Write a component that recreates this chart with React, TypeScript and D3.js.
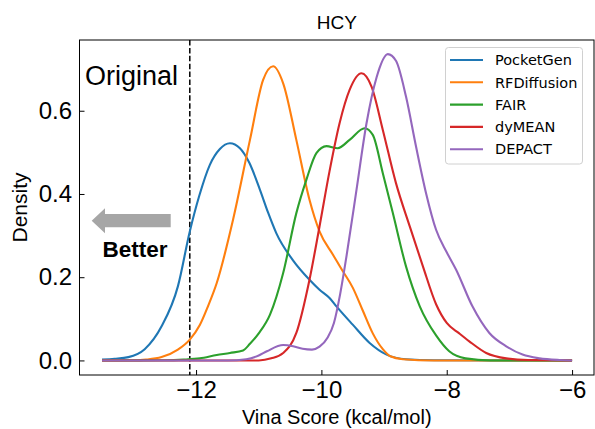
import React, { useEffect, useRef } from "react";
import * as d3 from "d3";

// KDE curves: [vina score, density]
const seriesNames = ["PocketGen", "RFDiffusion", "FAIR", "dyMEAN", "DEPACT"];
const seriesColors = ["#1f77b4", "#ff7f0e", "#2ca02c", "#d62728", "#9467bd"];

const pocketGen = [
	[-13.5, 0.002], [-13.3, 0.004], [-13.08, 0.008], [-12.82, 0.027], [-12.55, 0.082],
	[-12.29, 0.178], [-12.1, 0.31], [-11.95, 0.395], [-11.78, 0.47], [-11.62, 0.508],
	[-11.46, 0.522], [-11.3, 0.51], [-11.15, 0.475], [-10.98, 0.41], [-10.85, 0.355],
	[-10.72, 0.306], [-10.45, 0.24], [-10.19, 0.194], [-10.03, 0.17], [-9.87, 0.15],
	[-9.76, 0.13], [-9.5, 0.086], [-9.23, 0.042], [-8.96, 0.014], [-8.65, 0.003],
	[-8.2, 0.0005], [-6, 0],
];
const rfDiffusion = [
	[-13.5, 0], [-13, 0.0005], [-12.8, 0.002], [-12.55, 0.008], [-12.29, 0.026],
	[-12.1, 0.05], [-11.94, 0.085], [-11.81, 0.13], [-11.67, 0.186], [-11.41, 0.338],
	[-11.14, 0.53], [-10.93, 0.674], [-10.77, 0.707], [-10.61, 0.666], [-10.4, 0.53],
	[-10.19, 0.386], [-10.03, 0.31], [-9.82, 0.255], [-9.66, 0.215], [-9.5, 0.175],
	[-9.34, 0.12], [-9.18, 0.065], [-9.02, 0.027], [-8.9, 0.01], [-8.7, 0.003],
	[-8.2, 0], [-6, 0],
];
const fair = [
	[-13.5, 0], [-12.5, 0.0005], [-12.2, 0.002], [-11.94, 0.005], [-11.67, 0.013],
	[-11.46, 0.018], [-11.25, 0.024], [-11.14, 0.04], [-11.0, 0.065], [-10.82, 0.11],
	[-10.61, 0.21], [-10.4, 0.354], [-10.24, 0.434], [-10.08, 0.498], [-9.92, 0.515],
	[-9.74, 0.51], [-9.55, 0.53], [-9.31, 0.558], [-9.18, 0.542], [-9.02, 0.45],
	[-8.86, 0.354], [-8.65, 0.226], [-8.43, 0.13], [-8.17, 0.06], [-7.96, 0.022],
	[-7.7, 0.005], [-7.3, 0], [-6, 0],
];
const dyMean = [
	[-13.5, 0], [-11, 0], [-10.8, 0.005], [-10.61, 0.018], [-10.4, 0.066],
	[-10.19, 0.194], [-10.03, 0.322], [-9.87, 0.455], [-9.71, 0.57], [-9.55, 0.65],
	[-9.36, 0.69], [-9.2, 0.658], [-9.02, 0.554], [-8.81, 0.426], [-8.59, 0.322],
	[-8.38, 0.226], [-8.17, 0.135], [-8.0, 0.09], [-7.8, 0.065], [-7.64, 0.046],
	[-7.37, 0.018], [-7.05, 0.005], [-6.7, 0.001], [-6, 0],
];
const depact = [
	[-13.5, 0], [-11.5, 0], [-11.2, 0.003], [-11.0, 0.012], [-10.87, 0.022],
	[-10.61, 0.037], [-10.45, 0.034], [-10.3, 0.028], [-10.15, 0.026], [-10.03, 0.033],
	[-9.9, 0.055], [-9.8, 0.09], [-9.7, 0.16], [-9.6, 0.25], [-9.44, 0.41],
	[-9.28, 0.57], [-9.12, 0.68], [-8.94, 0.736], [-8.81, 0.72], [-8.65, 0.634],
	[-8.49, 0.514], [-8.33, 0.402], [-8.17, 0.314], [-8.0, 0.26], [-7.85, 0.218],
	[-7.59, 0.13], [-7.32, 0.066], [-7.05, 0.034], [-6.79, 0.014], [-6.52, 0.005],
	[-6.2, 0.001], [-6, 0],
];
const seriesData = [pocketGen, rfDiffusion, fair, dyMean, depact];

const xTicks = [-12, -10, -8, -6];
const yTicks = [0.0, 0.2, 0.4, 0.6];
const originalScore = -12.1;

const W = 595;
const H = 429;
const plot = { left: 79.5, right: 594, top: 40, bottom: 375 };
const SANS = "'Liberation Sans', Arial, sans-serif";

const App = () => {
	const ref = useRef(null);

	useEffect(() => {
		const svg = d3.select(ref.current);
		svg.selectAll("*").remove();

		const x = d3.scaleLinear().domain([-13.86, -5.65]).range([plot.left, plot.right]);
		const y = d3.scaleLinear().domain([-0.035, 0.77]).range([plot.bottom, plot.top]);

		svg.append("rect").attr("width", W).attr("height", H).attr("fill", "#fff");

		// dashed line for the original score
		svg.append("line")
			.attr("x1", x(originalScore)).attr("x2", x(originalScore))
			.attr("y1", plot.top).attr("y2", plot.bottom)
			.attr("stroke", "#000").attr("stroke-width", 1.5)
			.attr("stroke-dasharray", "5.5,2.4");

		const line = d3.line()
			.x((d) => x(d[0]))
			.y((d) => y(d[1]))
			.curve(d3.curveMonotoneX);

		seriesData.forEach((data, i) => {
			svg.append("path")
				.datum(data)
				.attr("d", line)
				.attr("fill", "none")
				.attr("stroke", seriesColors[i])
				.attr("stroke-width", 2.1)
				.attr("stroke-linejoin", "round");
		});

		// frame
		svg.append("rect")
			.attr("x", plot.left).attr("y", plot.top)
			.attr("width", plot.right - plot.left).attr("height", plot.bottom - plot.top)
			.attr("fill", "none").attr("stroke", "#000").attr("stroke-width", 1);

		// axes with inward ticks
		const xAxis = svg.append("g")
			.attr("transform", `translate(0, ${plot.bottom})`)
			.call(d3.axisBottom(x).tickValues(xTicks).tickSizeInner(-5).tickSizeOuter(0)
				.tickPadding(6).tickFormat((d) => d3.format("d")(d).replace("-", "\u2212")));
		xAxis.select(".domain").remove();
		xAxis.selectAll("text").attr("font-family", SANS).attr("font-size", 24).attr("fill", "#000");

		const yAxis = svg.append("g")
			.attr("transform", `translate(${plot.left}, 0)`)
			.call(d3.axisLeft(y).tickValues(yTicks).tickSizeInner(-5).tickSizeOuter(0)
				.tickPadding(7.5).tickFormat(d3.format(".1f")));
		yAxis.select(".domain").remove();
		yAxis.selectAll("text").attr("font-family", SANS).attr("font-size", 24).attr("fill", "#000");

		// title and axis labels
		svg.append("text")
			.attr("x", (plot.left + plot.right) / 2).attr("y", 29)
			.attr("text-anchor", "middle").attr("font-family", SANS).attr("font-size", 19)
			.text("HCY");
		svg.append("text")
			.attr("x", (plot.left + plot.right) / 2).attr("y", 424)
			.attr("text-anchor", "middle").attr("font-family", SANS).attr("font-size", 20)
			.text("Vina Score (kcal/mol)");
		svg.append("text")
			.attr("transform", `translate(27, ${(plot.top + plot.bottom) / 2}) rotate(-90)`)
			.attr("text-anchor", "middle").attr("font-family", SANS).attr("font-size", 21)
			.text("Density");

		// annotations
		svg.append("text")
			.attr("x", 85).attr("y", 85)
			.attr("font-family", SANS).attr("font-size", 27)
			.text("Original");
		svg.append("path")
			.attr("d", "M91.7,220.7 L105,208.3 L105,214 L170.7,214 L170.7,227.3 L105,227.3 L105,233.3 Z")
			.attr("fill", "#a6a6a6");
		svg.append("text")
			.attr("x", 102.5).attr("y", 256.5)
			.attr("font-family", SANS).attr("font-size", 22.5).attr("font-weight", "bold")
			.text("Better");

		// legend
		const legend = svg.append("g");
		legend.append("rect")
			.attr("x", 445.5).attr("y", 47.5).attr("width", 137).attr("height", 116.5)
			.attr("rx", 3).attr("fill", "#fff").attr("fill-opacity", 0.8)
			.attr("stroke", "#d0d0d0").attr("stroke-width", 1);
		seriesNames.forEach((name, i) => {
			const ly = 60 + i * 22.3;
			legend.append("line")
				.attr("x1", 450).attr("x2", 483).attr("y1", ly).attr("y2", ly)
				.attr("stroke", seriesColors[i]).attr("stroke-width", 2.1);
			legend.append("text")
				.attr("x", 495).attr("y", ly).attr("dy", "0.36em")
				.attr("font-family", "'DejaVu Sans', sans-serif").attr("font-size", 14.5)
				.text(name);
		});
	}, []);

	return (
		<svg
			ref={ref}
			width={W}
			height={H}
			style={{ position: "absolute", left: 0, top: 0, display: "block" }}
		></svg>
	);
};

export default App;
